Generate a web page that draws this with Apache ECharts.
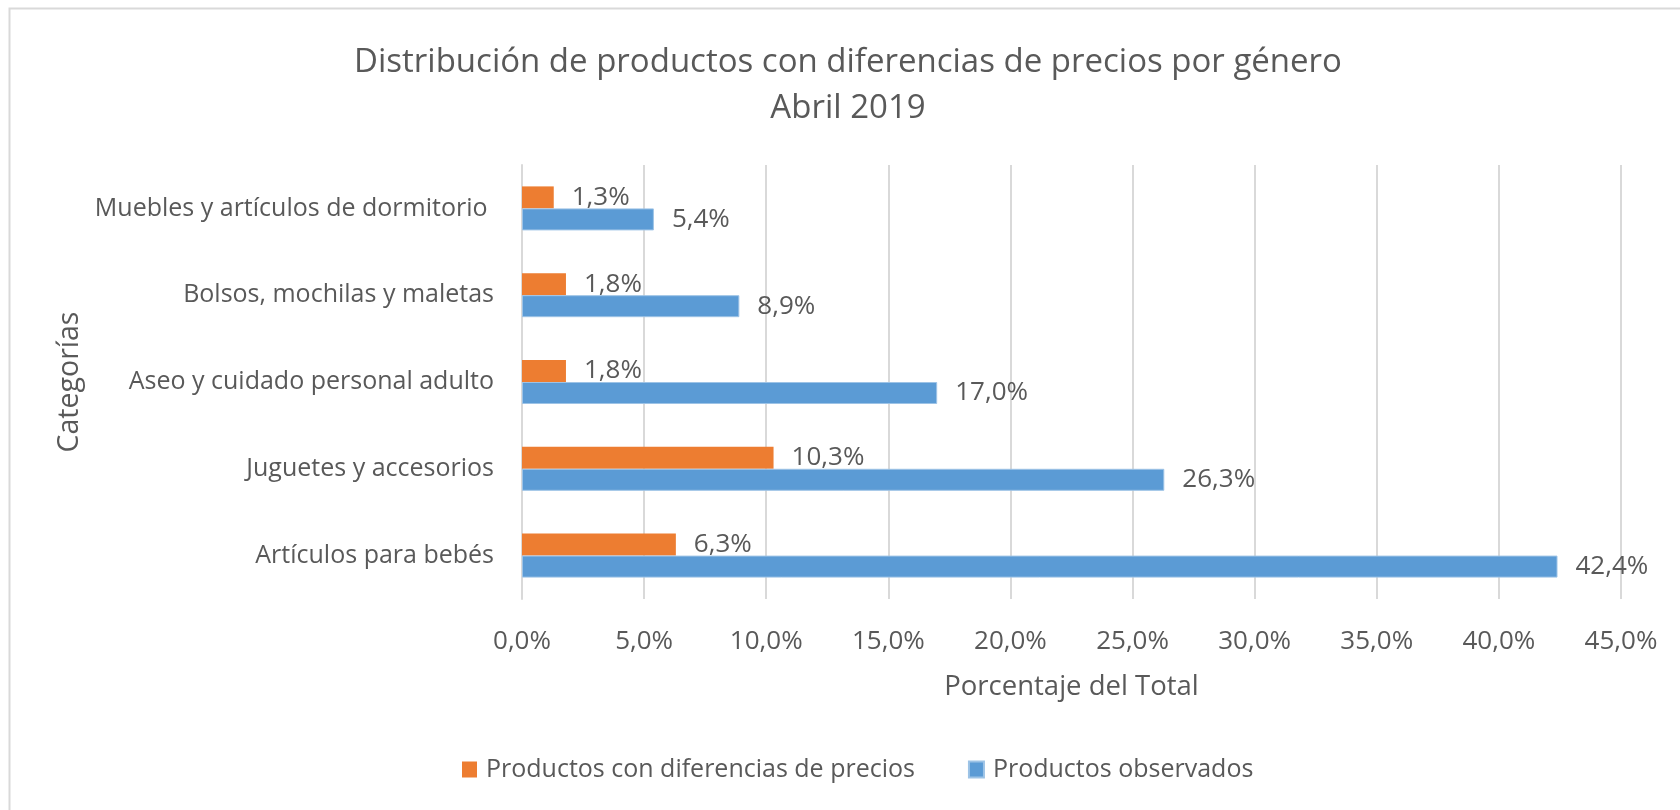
<!DOCTYPE html>
<html>
<head>
<meta charset="utf-8">
<script src="https://cdn.jsdelivr.net/npm/echarts@6/dist/echarts.min.js"></script>
<style>html,body{margin:0;padding:0;background:#fff}#c{width:1680px;height:810px}</style>
</head>
<body>
<div id="c"></div>
<script>
const categories = ['Artículos para bebés', 'Juguetes y accesorios', 'Aseo y cuidado personal adulto', 'Bolsos, mochilas y maletas', 'Muebles y artículos de dormitorio '];
const seriesNames = ['Productos con diferencias de precios', 'Productos observados'];
const conDiferencias = [6.3, 10.3, 1.8, 1.8, 1.3];
const observados = [42.4, 26.3, 17.0, 8.9, 5.4];
const xTicks = { min: 0, max: 45, interval: 5 };

const fmt = v => v.toFixed(1).replace('.', ',') + '%';
const txt = '#595959';
const FONT = 'Open Sans';

const chart = echarts.init(document.getElementById('c'), null, { renderer: 'canvas' });
chart.setOption({
  backgroundColor: '#fff',
  animation: false,
  textStyle: { fontFamily: FONT, color: txt },
  graphic: [{
    type: 'rect', left: 7, top: 6, shape: { width: 1720, height: 860 },
    style: { fill: 'none', stroke: '#D9D9D9', lineWidth: 2 }, silent: true, z: -1
  }],
  title: {
    text: 'Distribución de productos con diferencias de precios por género\nAbril 2019',
    left: 843, top: 35, textAlign: 'center',
    textStyle: { fontFamily: FONT, fontWeight: 'normal', fontSize: 33, color: txt, lineHeight: 46 }
  },
  legend: {
    data: seriesNames, top: 752, left: 457, itemGap: 53, itemWidth: 15, itemHeight: 16,
    icon: 'rect',
    textStyle: { fontFamily: FONT, fontSize: 25, color: txt, padding: [0, 0, 0, 4] }
  },
  grid: { left: 522, right: 59, top: 165, bottom: 211, containLabel: false },
  xAxis: {
    type: 'value', min: xTicks.min, max: xTicks.max, interval: xTicks.interval,
    name: 'Porcentaje del Total', nameLocation: 'middle', nameGap: 74,
    nameTextStyle: { fontFamily: FONT, fontSize: 27.5, color: txt },
    axisLine: { show: false }, axisTick: { show: false },
    axisLabel: { formatter: fmt, margin: 30, fontFamily: FONT, fontSize: 26, color: txt },
    splitLine: { lineStyle: { color: '#D9D9D9', width: 2 } }
  },
  yAxis: {
    type: 'category', data: categories,
    name: 'Categorías', nameLocation: 'middle', nameGap: 436, nameRotate: 90,
    nameTextStyle: { fontFamily: FONT, fontSize: 28.5, color: txt },
    axisLine: { show: true, lineStyle: { color: '#D9D9D9', width: 2 } },
    axisTick: { show: false },
    axisLabel: { margin: 28, fontFamily: FONT, fontSize: 25, color: txt }
  },
  series: [
    {
      name: seriesNames[0], type: 'bar', data: conDiferencias, barWidth: 22, barGap: '0%',
      itemStyle: { color: '#ED7D31' },
      label: { show: true, position: 'right', distance: 18, formatter: p => fmt(p.value), fontFamily: FONT, fontSize: 26, color: txt }
    },
    {
      name: seriesNames[1], type: 'bar', data: observados, barWidth: 22, barGap: '0%',
      itemStyle: { color: '#5B9BD5', borderColor: '#9DC3E6', borderWidth: 1 },
      label: { show: true, position: 'right', distance: 18, formatter: p => fmt(p.value), fontFamily: FONT, fontSize: 26, color: txt }
    }
  ]
});
</script>
</body>
</html>
